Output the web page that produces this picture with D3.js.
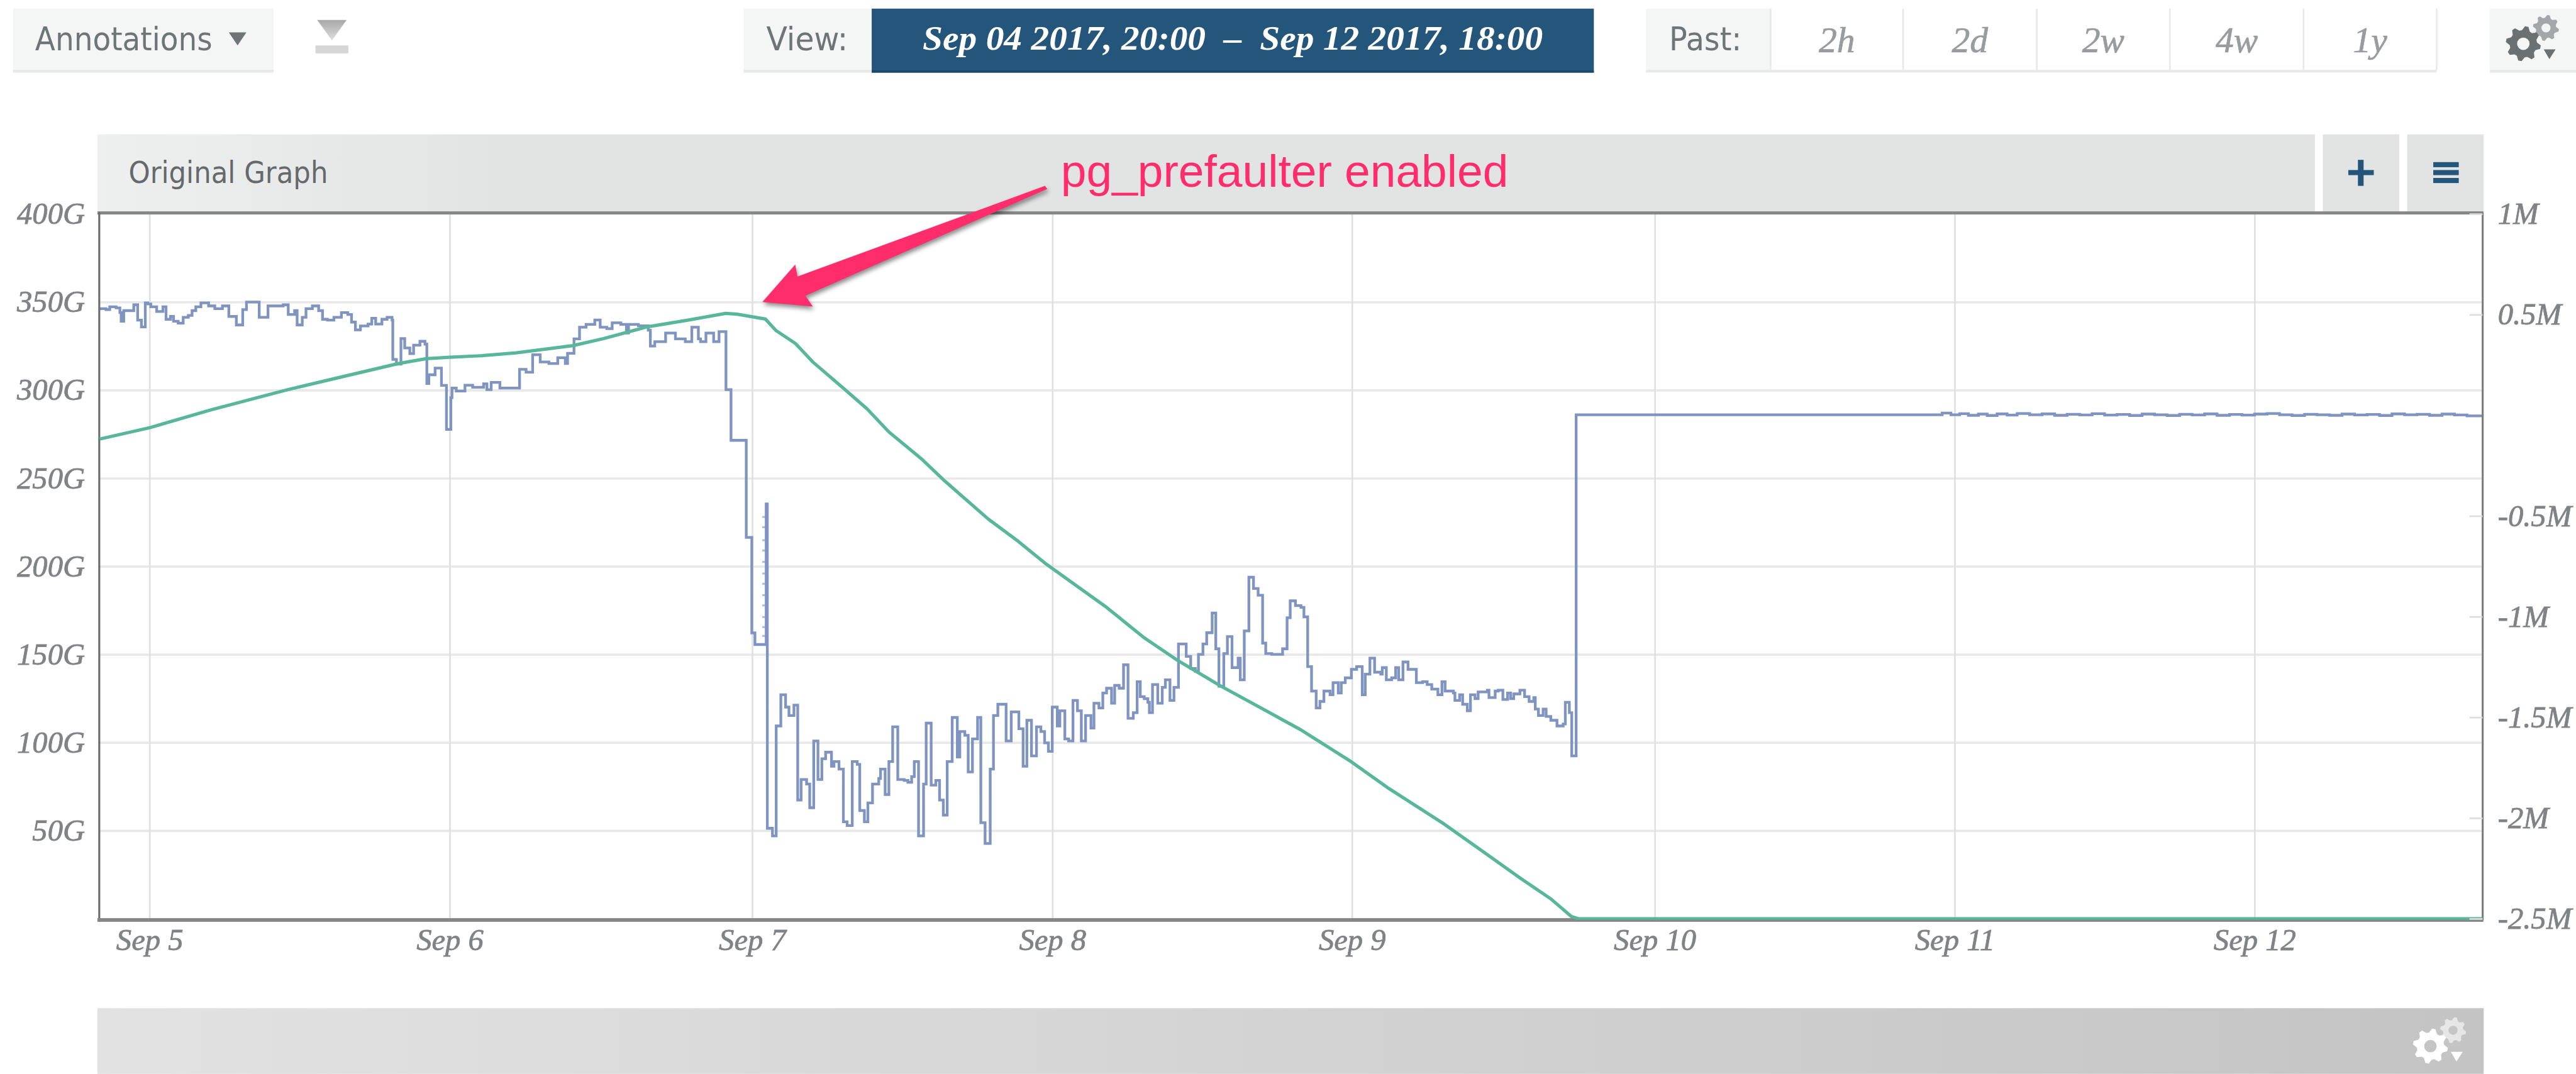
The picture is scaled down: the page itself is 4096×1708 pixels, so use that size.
<!DOCTYPE html>
<html>
<head>
<meta charset="utf-8">
<script src="https://cdn.jsdelivr.net/npm/d3@7"></script>
<style>
  html, body { margin: 0; padding: 0; background: #fff; overflow: hidden; }
  svg { display: block; }
  .slab { font-family: "Liberation Serif", serif; font-style: italic; }
  .ui { font-family: "DejaVu Sans", sans-serif; }
</style>
</head>
<body>
<svg id="draw"></svg>
<script>
// all series are [hours since Sep 5 00:00 UTC, value]
const dayTicks = ["2017-09-05", "2017-09-06", "2017-09-07", "2017-09-08", "2017-09-09", "2017-09-10", "2017-09-11", "2017-09-12"];
const leftTicks = [50, 100, 150, 200, 250, 300, 350, 400];
const rightTicks = [1000000, 500000, -500000, -1000000, -1500000, -2000000, -2500000];
const pastLabels = ["2h", "2d", "2w", "4w", "1y"];

// blue: gigabytes, step-after
const blueBeforeDrop = [
  [-3.99,346.2],[-3.48,345.7],[-3.18,347.3],[-2.67,346.7],[-2.37,344],[-2.27,339.1],[-2.06,345.1],[-1.26,348.4],[-0.95,339.7],[-0.65,335.9],
  [-0.34,349.5],[-0.14,348.9],[0.10,347.3],[0.57,344.6],[1.07,347.3],[1.32,340.2],[1.68,341.8],[1.92,339.1],[2.29,338],[2.69,341.3],
  [3.10,342.4],[3.40,345.1],[3.70,347.3],[4.11,349.5],[4.72,347.8],[5.22,346.2],[5.83,347.8],[6.34,341.8],[6.94,337],[7.45,345.7],
  [7.75,350],[8.77,341.3],[9.47,347.8],[10.18,347.8],[10.69,348.4],[11.09,342.9],[11.60,345.1],[11.80,337],[12.21,341.3],[12.51,346.2],
  [13.02,347.8],[13.52,345.1],[13.83,340.2],[14.23,339.7],[14.74,341.3],[15.34,344],[15.85,342.9],[16.15,338.6],[16.46,334.2],[16.86,336.4],
  [17.47,337.5],[17.77,340.8],[18.08,337.5],[18.58,340.2],[18.99,341.3],[19.39,339.7],[19.45,317.4],[19.74,314.7],[20.10,329.3],[20.40,323.9],
  [20.81,320.7],[21.11,325.5],[21.62,327.7],[22.02,326.1],[22.17,303.8],[22.33,308.7],[22.83,312.5],[23.34,302.7],[23.74,277.7],[24.09,295.7],
  [24.18,301.2],[24.52,299.5],[25.21,302.8],[25.82,301.6],[26.69,303.6],[26.95,300.3],[27.29,304.4],[27.98,301.2],[29.54,311.8],[30.06,310.2],
  [30.58,320.1],[31.18,316],[31.87,315.1],[32.57,318.4],[33.17,315.1],[33.35,320.9],[33.86,329.1],[34.30,335.7],[34.82,337.3],[35.51,339.8],
  [35.94,335.7],[36.46,334.9],[36.89,338.2],[37.58,337.3],[38.02,332.4],[38.19,337.3],[38.97,336.5],[39.75,334],[39.92,325],[40.27,327.5],
  [41.13,332.4],[41.91,329.1],[42.69,327.5],[43.21,335.7],[43.73,329.1],[43.90,327.5],[44.33,332.4],[44.94,327.5],[45.37,333.2],[45.92,300.3],
  [46.32,271.5],[47.53,216.4],[47.97,162.2],[48.22,155.6],[49.12,235.4]
];
const blueAfterDrop = [
  [49.21,51.3],[49.62,47],[49.92,109.4],[50.29,127.1],[50.67,120.1],[50.94,115.3],[51.34,121.2],[51.64,67.3],[51.91,79],[52.35,76.4],
  [52.60,63],[52.92,100.9],[53.26,79],[53.57,90.8],[53.87,94.5],[54.34,86.5],[54.54,89.2],[54.94,84.9],[55.29,55],[55.59,52.9],
  [56.00,89.2],[56.40,87.6],[56.60,61.4],[56.97,55],[57.25,65.7],[57.62,76.4],[58.12,79.6],[58.26,84.9],[58.63,70.5],[58.93,89.2],
  [59.23,108.9],[59.64,79],[60.15,78.5],[60.45,77.4],[60.75,80.6],[60.96,89.2],[61.30,47],[61.70,76.4],[61.91,111],[62.31,75.8],
  [62.68,78.5],[62.98,67.3],[63.28,58.8],[63.59,89.2],[63.99,114.2],[64.40,91.8],[64.60,106.2],[65.00,104.1],[65.27,83.3],[65.61,102],
  [66.02,114.2],[66.28,54.5],[66.62,42.7],[67.03,84.9],[67.29,115.3],[67.64,121.7],[68.30,100.9],[68.71,117.4],[69.32,107.8],[69.66,86.5],
  [69.96,112.6],[70.33,92.4],[70.73,108.9],[71.08,106.2],[71.38,99.8],[71.68,95],[71.99,120.1],[72.39,109.4],[72.60,118],[73.00,102],
  [73.30,100.9],[73.65,123.9],[74.01,118],[74.32,100.9],[74.66,115.3],[75.09,108.2],[75.33,122.3],[75.73,119.6],[76.04,128.1],[76.34,130.8],
  [76.74,122.3],[76.99,132.4],[77.35,130.8],[77.70,144.1]
];
const blueRecovery = [
  [78.06,113.7],[78.48,116.9],[78.79,134.5],[79.04,126],[79.36,124.9],[79.65,122.8],[79.77,116.9],[80.02,132.9],[80.44,122.3],[80.80,131.3],
  [81.05,135.6],[81.42,123.9],[81.74,131.3],[82.10,155.9],[82.72,148.9],[83.08,142],[83.45,140.4],[83.70,150],[84.06,155.9],[84.36,162.3],
  [84.80,173.5],[85.09,153.2],[85.34,131.9],[85.73,150.5],[86.02,160.1],[86.39,142.5],[86.88,147.9],[87.05,135.6],[87.37,163.3],[87.74,193.8],
  [88.11,187.4],[88.48,183.6],[88.84,156.4],[89.09,150.5],[89.58,150],[90.44,153.2],[90.80,170.8],[91.05,180.4],[91.47,177.7],[91.91,176.7],
  [92.15,171.3],[92.45,143.1],[92.76,129.2],[93.13,119.6],[93.43,123.3],[93.75,129.2],[94.24,127.1],[94.48,134],[94.90,128.1],[95.14,134],
  [95.46,136.7],[95.95,141.5],[96.37,143.1],[96.81,127.1],[97.05,138.8],[97.42,147.9],[97.79,139.9],[98.28,138.8],[98.40,142.5],[98.72,135.6],
  [99.14,136.7],[99.46,142.5],[99.70,135.6],[100.04,145.7],[100.44,141.5],[101.10,134],[101.59,134.5],[101.96,132.9],[102.32,130.3],[102.81,127.1],
  [103.13,134.5],[103.38,129.2],[104.04,128.1],[104.16,123.9],[104.53,127.1],[104.77,121.7],[105.14,118],[105.39,127.1],[105.75,124.9],[106.00,128.7],
  [106.74,129.7],[106.86,125.5],[107.35,129.2],[107.59,129.7],[107.96,124.4],[108.33,128.1],[108.57,124.9],[108.82,127.6],[109.31,129.7],[109.68,126],
  [110.04,123.3],[110.41,125.5],[110.53,119],[110.78,115.3],[111.15,119],[111.39,114.8],[111.76,112.6],[112.25,109.4],[112.74,110.5],[112.91,122.8],
  [113.23,116.9],[113.42,92.4]
];
const bluePlateau = [
  [113.77,286],[143.0,287],[143.7,286],[144.4,286.6],[145.1,285.7],[145.9,286.4],[146.6,285.6],[147.4,286.5],[148.2,285.8],[149,286.7],
  [150,286],[151,286.5],[152,285.7],[153,286.3],[154,285.9],[155,286.6],[156,285.8],[157,286.2],[158,285.6],[159,286.4],
  [160,286],[161,285.6],[162,286.3],[163,285.9],[164,286.5],[165,285.7],[166,286.2],[167,285.8],[168,286.4],[169,286.7],
  [170,286],[171,285.6],[172,286.3],[173,286],[174,285.7],[175,286.4],[176,285.9],[177,286.2],[178,285.6],[179,286.5],
  [180,286],[181,286.3],[182,285.7],[183,286.4],[184,285.9],[185,285.4],[186.2,286]
];
// the little comb next to the Sep 7 spike
const combHours = [48.8, 49.21];
const combLevels = [228, 222.2, 214.8, 209, 202.5, 195.9, 190.1, 183.6, 177.8, 171.2, 165.5, 160.5];

// green: right axis, raw units
const greenSeries = [
  [-3.99,-118000],[0,-62000],[4.92,27000],[10.99,126000],[15.04,186000],[19.9,257000],[22.13,281000],[24,288000],[26.54,296000],
  [29.28,310000],[33.78,346000],[36.2,381000],[39.66,439000],[43.12,475000],[45.89,506000],[46.8,502000],[49.06,478000],[49.92,420000],
  [51.45,357000],[52.86,264000],[55.43,127000],[57.2,31000],[58.92,-82000],[61.49,-214000],[63.39,-326000],[66.87,-515000],[69.29,-627000],
  [71.53,-740000],[76.22,-948000],[79.4,-1107000],[82.1,-1220000],[85.53,-1346000],[88.72,-1454000],[91.9,-1562000],[93.38,-1620000],
  [94.27,-1655000],[95.95,-1721000],[98.79,-1848000],[103.31,-2030000],[106.34,-2165000],[109.33,-2298000],[111.77,-2402000],[113.39,-2489000],
  [113.94,-2500000],[186.2,-2500000]
];

const W = 4548, H = 1896;
const plot = { left: 175, right: 4383, top: 375.5, bottom: 1624 };

const svg = d3.select("#draw")
  .attr("width", 4096)
  .attr("height", 1708)
  .attr("viewBox", "0 0 " + W + " " + H);

const hourDate = h => new Date(Date.UTC(2017, 8, 5) + h * 3600000);
const days = dayTicks.map(d => new Date(d + "T00:00:00Z"));

const x = d3.scaleUtc()
  .domain(days)
  .range([264, 794, 1328, 1858, 2387, 2921.5, 3451, 3980.5]);
const yLeft = d3.scaleLinear().domain([0, 400]).range([1622, 377.5]);
const yRight = d3.scaleLinear().domain([-2500000, 1000000]).range([1622, 377.5]);

const defs = svg.append("defs");

function gradient(id, stops) {
  var g = defs.append("linearGradient").attr("id", id);
  stops.forEach(s => g.append("stop").attr("offset", s[0]).attr("stop-color", s[1]));
  return g;
}
gradient("headerFill", [[0, "#eeefef"], [0.18, "#e2e4e4"], [1, "#e2e4e4"]]);
gradient("footFill", [[0, "#e2e2e2"], [1, "#c4c4c4"]]);
gradient("downFill", [[0, "#a8a8a8"], [1, "#dedede"]]).attr("x2", 0).attr("y2", 1);

defs.append("clipPath").attr("id", "plotClip").append("rect")
  .attr("x", plot.left).attr("y", plot.top)
  .attr("width", plot.right - plot.left).attr("height", plot.bottom - plot.top);

function box(parent, bx, by, bw, bh, fill) {
  return parent.append("rect").attr("x", bx).attr("y", by).attr("width", bw).attr("height", bh).attr("fill", fill);
}

function label(parent, str, lx, ly, size, fill, cls, len) {
  var t = parent.append("text")
    .attr("class", cls)
    .attr("x", lx).attr("y", ly)
    .attr("font-size", size)
    .attr("fill", fill)
    .text(str);
  if (len) t.attr("textLength", len).attr("lengthAdjust", "spacingAndGlyphs");
  return t;
}

// gear outline with a hole, for the two settings icons
function gearPath(cx, cy, r, hole, teeth) {
  var pts = [], n = teeth * 4;
  for (var i = 0; i < n; i++) {
    var a = (i + 0.5) / n * 2 * Math.PI;
    var rr = (i % 4 < 2) ? r : r * 0.78;
    pts.push([cx + rr * Math.cos(a), cy + rr * Math.sin(a)]);
  }
  return d3.line()(pts) + "Z" +
    "M" + (cx + hole) + "," + cy + "A" + hole + "," + hole + " 0 1,0 " + (cx - hole) + "," + cy +
    "A" + hole + "," + hole + " 0 1,0 " + (cx + hole) + "," + cy + "Z";
}

function gearIcon(parent, bx, by, bigFill, smallFill, triFill) {
  parent.append("path").attr("d", gearPath(bx + 40, by + 30, 23, 8, 8)).attr("fill", smallFill).attr("fill-rule", "evenodd");
  parent.append("path").attr("d", gearPath(bx, by + 58, 31, 11, 8)).attr("fill", bigFill).attr("fill-rule", "evenodd");
  parent.append("path").attr("d", d3.line()([[bx + 36, by + 68], [bx + 57, by + 68], [bx + 46, by + 85]])).attr("fill", triFill);
}

// toolbar
const bar = svg.append("g");
const uiGrey = "#6e7577";

box(bar, 23, 15, 460, 113, "#f4f5f5");
box(bar, 23, 123, 460, 5, "#e8eaea");
label(bar, "Annotations", 62, 89, 58, uiGrey, "ui", 313);
bar.append("path").attr("d", d3.line()([[404, 57], [435, 57], [419.5, 80]])).attr("fill", uiGrey);
bar.append("path").attr("d", d3.line()([[560, 35], [612, 35], [586, 71]])).attr("fill", "url(#downFill)");
box(bar, 557, 80, 58, 14, "#d6d6d6");

box(bar, 1313, 15, 226, 113, "#f4f5f5");
box(bar, 1313, 123, 226, 5, "#e8eaea");
label(bar, "View:", 1353, 89, 58, uiGrey, "ui", 144);
box(bar, 1539, 15, 1275, 113, "#24557a");
box(bar, 1539, 124, 1275, 4, "#1c4766");
label(bar, "Sep 04 2017, 20:00 \u00a0\u2013\u00a0 Sep 12 2017, 18:00", 1629, 88, 62, "#fff", "slab", 1095)
  .attr("font-weight", "bold");

box(bar, 2906, 15, 1396, 113, "#fff");
box(bar, 2906, 15, 220, 108, "#f4f5f5");
box(bar, 2906, 123, 1396, 5, "#e8eaea");
label(bar, "Past:", 2947, 89, 58, uiGrey, "ui", 128);
const pastEdges = [3126, 3360, 3596, 3831, 4067, 4302];
pastEdges.forEach(e => box(bar, e - 1.5, 15, 3, 108, "#e8e9e9"));
bar.selectAll(".past")
  .data(pastLabels)
  .enter().append("text")
  .attr("class", "past slab")
  .attr("x", (d, i) => (pastEdges[i] + pastEdges[i + 1]) / 2)
  .attr("y", 92)
  .attr("text-anchor", "middle")
  .attr("font-size", 64)
  .attr("fill", "#989c9e")
  .attr("stroke", "#989c9e")
  .attr("stroke-width", 0.8)
  .text(d => d);

box(bar, 4396, 15, 152, 113, "#f4f5f5");
box(bar, 4396, 123, 152, 5, "#e8eaea");
gearIcon(bar, 4455, 19, "#6b7173", "#a3a7a9", "#6b7173");

// graph header
const head = svg.append("g");
box(head, 172, 237, 3915, 138, "url(#headerFill)");
box(head, 4101, 237, 135, 138, "#e2e4e4");
box(head, 4250, 237, 135, 138, "#e2e4e4");
label(head, "Original Graph", 227, 323, 54, "#65696b", "ui", 352);
box(head, 4163, 282, 10, 46, "#24557a");
box(head, 4146, 300, 45, 9, "#24557a");
box(head, 4296, 286, 45, 9, "#24557a");
box(head, 4296, 300, 45, 9, "#24557a");
box(head, 4296, 314, 45, 9, "#24557a");

// grid
const grid = svg.append("g");
grid.append("g")
  .call(d3.axisLeft(yLeft).tickValues(leftTicks.slice(0, -1)).tickSize(-(plot.right - plot.left)).tickFormat(""))
  .attr("transform", "translate(" + plot.left + ",0)")
  .call(g => g.select(".domain").remove())
  .selectAll("line").attr("stroke", "#e8e8e8").attr("stroke-width", 4);
grid.append("g")
  .call(d3.axisBottom(x).tickValues(days).tickSize(-(plot.bottom - plot.top)).tickFormat(""))
  .attr("transform", "translate(0," + plot.bottom + ")")
  .call(g => g.select(".domain").remove())
  .selectAll("line").attr("stroke", "#e0e1e1").attr("stroke-width", 3);

// series
const blueColor = "#7f94c0";
const blueAll = blueBeforeDrop.concat(blueAfterDrop, blueRecovery, bluePlateau);
const marks = svg.append("g").attr("clip-path", "url(#plotClip)");

marks.append("path")
  .datum(blueAll)
  .attr("fill", "none")
  .attr("stroke", blueColor)
  .attr("stroke-width", 4.8)
  .attr("d", d3.line()
    .curve(d3.curveStepAfter)
    .x(d => x(hourDate(d[0])))
    .y(d => yLeft(d[1])));

marks.selectAll(".comb")
  .data(combLevels)
  .enter().append("line")
  .attr("class", "comb")
  .attr("x1", x(hourDate(combHours[0])))
  .attr("x2", x(hourDate(combHours[1])))
  .attr("y1", d => yLeft(d))
  .attr("y2", d => yLeft(d))
  .attr("stroke", blueColor)
  .attr("stroke-opacity", 0.6)
  .attr("stroke-width", 3.5);

// frame
const frame = svg.append("g");
box(frame, plot.left - 3, 373, plot.right - plot.left + 4.5, 5.5, "#858787");
box(frame, plot.left - 1.5, 375, 3.5, 1250, "#6c6e6e");
box(frame, plot.right - 1.5, 375, 3.5, 1250, "#7c7e7e");
box(frame, plot.left - 3, 1621, plot.right - plot.left + 4.5, 6.5, "#858686");

svg.append("path")
  .datum(greenSeries)
  .attr("fill", "none")
  .attr("stroke", "#58b79b")
  .attr("stroke-width", 5.8)
  .attr("stroke-linejoin", "round")
  .attr("clip-path", "url(#plotClip)")
  .attr("d", d3.line()
    .x(d => x(hourDate(d[0])))
    .y(d => yRight(d[1])));

// axes
const axisGrey = "#808385";
function styleAxis(g) {
  g.select(".domain").remove();
  g.selectAll("text")
    .attr("class", "slab")
    .attr("font-size", 54)
    .attr("fill", axisGrey)
    .attr("stroke", axisGrey)
    .attr("stroke-width", 0.9);
}

svg.append("g")
  .attr("transform", "translate(" + plot.left + ",0)")
  .call(d3.axisLeft(yLeft).tickValues(leftTicks).tickSize(0).tickPadding(25).tickFormat(d => d + "G"))
  .call(styleAxis);

svg.append("g")
  .attr("transform", "translate(" + plot.right + ",0)")
  .call(d3.axisRight(yRight).tickValues(rightTicks).tickSize(-23).tickPadding(27).tickFormat(d => (d / 1000000) + "M"))
  .call(styleAxis)
  .call(g => g.selectAll("line").attr("stroke", "#dedede").attr("stroke-width", 3));

svg.append("g")
  .attr("transform", "translate(0," + plot.bottom + ")")
  .call(d3.axisBottom(x).tickValues(days).tickSize(0).tickPadding(15).tickFormat(d3.utcFormat("%b %-d")))
  .call(styleAxis);

// pink annotation on top of the screenshot
const pink = "#ff2d6b";
svg.append("path")
  .attr("d", d3.line()([[1346, 533], [1404, 467], [1408, 488], [1845, 328], [1849, 333.5], [1422, 522], [1435, 541]]) + "Z")
  .attr("fill", pink)
  .style("filter", "drop-shadow(2px 5px 4px rgba(0,0,0,0.45))");
svg.append("text")
  .attr("x", 1873)
  .attr("y", 330)
  .attr("font-family", "'Liberation Sans', sans-serif")
  .attr("font-size", 81)
  .attr("fill", pink)
  .attr("textLength", 790)
  .attr("lengthAdjust", "spacingAndGlyphs")
  .text("pg_prefaulter enabled");

// footer bar
const foot = svg.append("g");
box(foot, 172, 1780, 4213, 116, "url(#footFill)");
gearIcon(foot, 4291, 1789, "#ffffff", "#e6e6e6", "#ffffff");
</script>
</body>
</html>
